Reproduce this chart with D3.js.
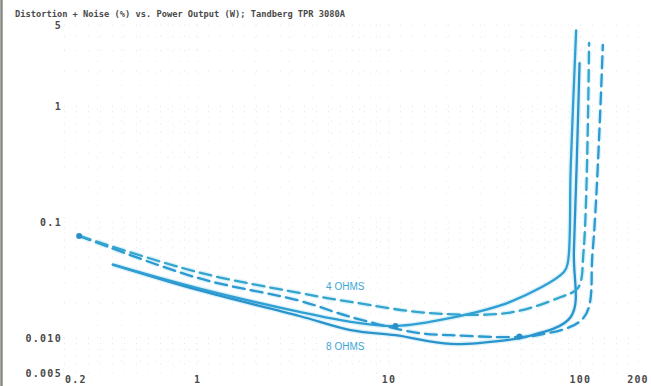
<!DOCTYPE html>
<html>
<head>
<meta charset="utf-8">
<script src="https://cdn.jsdelivr.net/npm/d3@7"></script>
<style>
  html, body { margin: 0; padding: 0; background: #fff; }
  svg { display: block; }
</style>
</head>
<body>
<div id="chart"></div>
<script>
const TITLE = "Distortion + Noise (%) vs. Power Output (W); Tandberg TPR 3080A";

// tick labels
const xTicks = [0.2, 1, 10, 100, 200];
const xTickLabels = ["0.2", "1", "10", "100", "200"];
const yTicks = [5, 1, 0.1, 0.01, 0.005];
const yTickLabels = ["5", "1", "0.1", "0.010", "0.005"];

// series: [watts, percent]
const solid4 = [[0.36, 0.043], [1, 0.027], [3.4, 0.0168], [6.3, 0.0138], [10.8, 0.0127], [21, 0.0149], [43, 0.0205], [82, 0.0371], [86, 0.045], [89, 0.3], [95, 4.5]];
const solid8 = [[0.36, 0.043], [1, 0.026], [3.4, 0.0155], [6.3, 0.0117], [10.8, 0.0106], [21, 0.0089], [43, 0.0097], [51, 0.0102], [89, 0.0152], [92.5, 0.0574], [99, 2.35]];
const dashed4 = [[0.24, 0.076], [1, 0.037], [3.4, 0.0245], [6.3, 0.0205], [16.5, 0.0164], [43, 0.0166], [79, 0.0226], [97, 0.027], [104, 0.0574], [111, 3.5]];
const dashed8 = [[0.24, 0.076], [1, 0.033], [3.4, 0.021], [6.3, 0.0152], [14.1, 0.0111], [21, 0.0106], [43, 0.0102], [60, 0.0106], [104, 0.015], [116, 0.0574], [131, 3.37]];
const markers = [[0.24, 0.076], [10.8, 0.0127], [48, 0.0103]];

const labels = [
  { text: "4 OHMS", w: 5.9, p: 0.0281 },
  { text: "8 OHMS", w: 5.9, p: 0.0084 }
];

const width = 651, height = 386;
const margin = { left: 64, right: 13, top: 25, bottom: 13 };

const x = d3.scaleLog().domain([0.2, 200]).range([margin.left, width - margin.right]);
const y = d3.scaleLog().domain([0.005, 5]).range([height - margin.bottom, margin.top]);

const svg = d3.select("#chart").append("svg")
  .attr("width", width)
  .attr("height", height);

// scan edge on the left
svg.append("line")
  .attr("x1", 1.5).attr("x2", 1.5).attr("y1", 0).attr("y2", height)
  .attr("stroke", "#8a8a85").attr("stroke-width", 2.5);

// faint dotted log grid
const gridX = [];
[0.1, 1, 10, 100].forEach(d => { for (let i = 1; i < 10; i++) { const v = d * i; if (v >= 0.2 && v <= 200) gridX.push(v); } });
const gridY = [];
[0.001, 0.01, 0.1, 1].forEach(d => { for (let i = 1; i < 10; i++) { const v = d * i; if (v >= 0.005 && v <= 5) gridY.push(v); } });

const grid = svg.append("g").attr("stroke", "#c9cbd8").attr("stroke-width", 1).attr("stroke-dasharray", "1,11").attr("opacity", 0.45);
grid.selectAll(".gx").data(gridX).join("line")
  .attr("x1", d => x(d)).attr("x2", d => x(d))
  .attr("y1", y(5)).attr("y2", y(0.005));
grid.selectAll(".gy").data(gridY).join("line")
  .attr("y1", d => y(d)).attr("y2", d => y(d))
  .attr("x1", x(0.2)).attr("x2", x(200));

// title
svg.append("text")
  .attr("x", 15).attr("y", 17)
  .attr("textLength", 330)
  .attr("lengthAdjust", "spacingAndGlyphs")
  .style("font-family", "'DejaVu Sans Mono', monospace")
  .style("font-weight", "bold")
  .style("font-size", "9.5px")
  .attr("fill", "#4a4a4a")
  .text(TITLE);

// y labels
svg.append("g")
  .style("font-family", "'DejaVu Sans Mono', monospace")
  .style("font-weight", "bold")
  .style("font-size", "10px")
  .style("letter-spacing", "1.3px")
  .attr("fill", "#4a4a4a")
  .attr("text-anchor", "end")
  .selectAll("text")
  .data(yTicks)
  .join("text")
  .attr("x", margin.left - 2)
  .attr("y", d => y(d))
  .attr("dy", "0.36em")
  .text((d, i) => yTickLabels[i]);

// x labels
svg.append("g")
  .style("font-family", "'DejaVu Sans Mono', monospace")
  .style("font-weight", "bold")
  .style("font-size", "10px")
  .style("letter-spacing", "1.2px")
  .attr("fill", "#4a4a4a")
  .selectAll("text")
  .data(xTicks)
  .join("text")
  .attr("text-anchor", (d, i) => i === 0 ? "start" : "middle")
  .attr("x", (d, i) => i === 0 ? x(d) + 1 : x(d))
  .attr("y", height - 3)
  .text((d, i) => xTickLabels[i]);

const line = d3.line()
  .x(d => x(d[0]))
  .y(d => y(d[1]))
  .curve(d3.curveCatmullRom.alpha(0.5));

const series = [
  { data: solid8, color: "#2a93cc", dash: null },
  { data: solid4, color: "#2f9fd4", dash: null },
  { data: dashed8, color: "#2c9ad0", dash: "12,6" },
  { data: dashed4, color: "#33a5cf", dash: "12,6" }
];

// soft halo like the printed ink
svg.append("g").selectAll("path")
  .data(series)
  .join("path")
  .attr("d", d => line(d.data))
  .attr("fill", "none")
  .attr("stroke", "#d6f0f8")
  .attr("stroke-width", 5)
  .attr("stroke-dasharray", d => d.dash)
  .attr("opacity", 0.8);

svg.append("g").selectAll("path")
  .data(series)
  .join("path")
  .attr("d", d => line(d.data))
  .attr("fill", "none")
  .attr("stroke", d => d.color)
  .attr("stroke-width", 2.3)
  .attr("stroke-linecap", "round")
  .attr("stroke-dasharray", d => d.dash);

svg.append("g").selectAll("circle")
  .data(markers)
  .join("circle")
  .attr("cx", d => x(d[0]))
  .attr("cy", d => y(d[1]))
  .attr("r", 3)
  .attr("fill", "#2a8fc6");

svg.append("g")
  .style("font-family", "'Liberation Sans', Arial, sans-serif")
  .style("font-size", "10px")
  .attr("fill", "#3ea6d6")
  .attr("text-anchor", "middle")
  .selectAll("text")
  .data(labels)
  .join("text")
  .attr("x", d => x(d.w))
  .attr("y", d => y(d.p))
  .attr("dy", "0.35em")
  .text(d => d.text);
</script>
</body>
</html>
